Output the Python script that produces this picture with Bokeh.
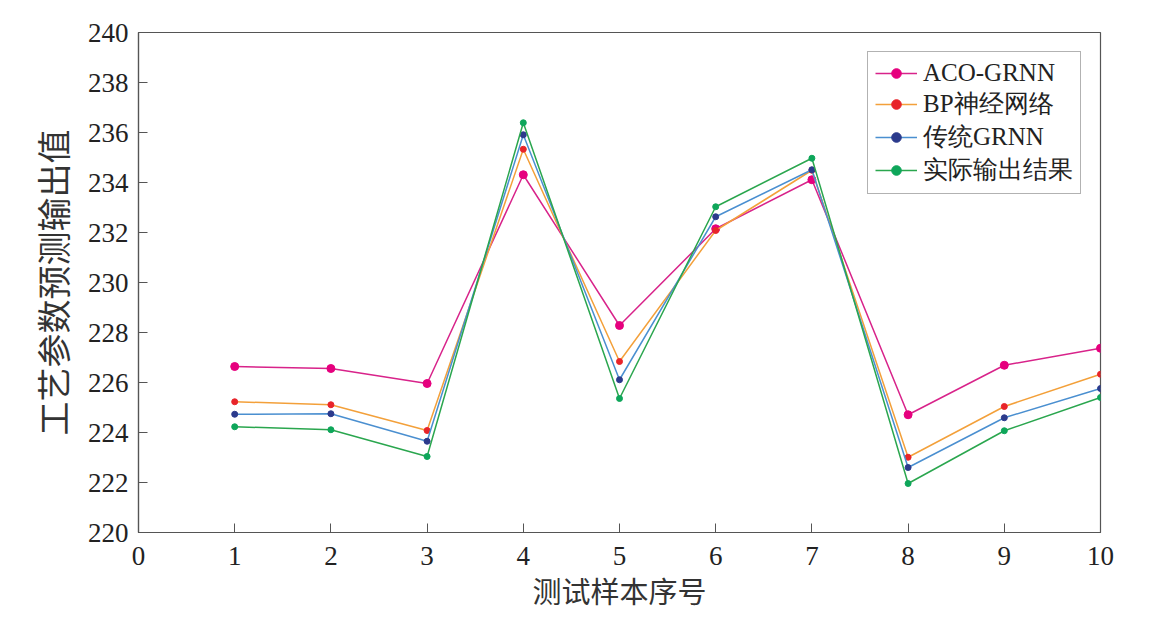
from bokeh.plotting import figure
from bokeh.models import FixedTicker, Range1d, Legend
from bokeh.embed import file_html
from bokeh.resources import INLINE

samples = [1, 2, 3, 4, 5, 6, 7, 8, 9, 10]
aco_grnn = [226.64, 226.56, 225.96, 234.31, 228.28, 232.15, 234.11, 224.71, 226.69, 227.37]
bp_nn = [225.23, 225.11, 224.08, 235.33, 226.84, 232.08, 234.49, 223.01, 225.04, 226.33]
grnn = [224.73, 224.75, 223.65, 235.91, 226.11, 232.63, 234.51, 222.60, 224.59, 225.76]
actual = [224.23, 224.11, 223.04, 236.39, 225.36, 233.03, 234.97, 221.96, 224.07, 225.40]
names = ["ACO-GRNN", "BP神经网络", "传统GRNN", "实际输出结果"]
x_ticks = [0, 1, 2, 3, 4, 5, 6, 7, 8, 9, 10]
y_ticks = [220, 222, 224, 226, 228, 230, 232, 234, 236, 238, 240]

FONT = "Liberation Serif"
CJK = "Noto Sans CJK SC"
AX = "#555555"

p = figure(frame_width=962, frame_height=500, output_backend="svg", toolbar_location=None,
           x_range=Range1d(0, 10), y_range=Range1d(220, 240),
           min_border_left=138, min_border_top=32, min_border_right=20, min_border_bottom=75)
p.background_fill_color = "white"
p.border_fill_color = "white"
p.outline_line_color = AX
p.outline_line_width = 1.2
p.grid.visible = False

for ax in (p.xaxis[0], p.yaxis[0]):
    ax.axis_line_color = AX
    ax.axis_line_width = 1.2
    ax.major_tick_line_color = AX
    ax.major_tick_in = 9
    ax.major_tick_out = 0
    ax.minor_tick_line_color = None
    ax.major_label_text_font = FONT
    ax.major_label_text_font_size = "27px"
    ax.major_label_text_color = "#222222"
    ax.axis_label_text_font = CJK
    ax.axis_label_text_font_style = "normal"
    ax.axis_label_text_color = "#333333"

p.xaxis.ticker = FixedTicker(ticks=x_ticks)
p.yaxis.ticker = FixedTicker(ticks=y_ticks)
p.xaxis.major_label_standoff = 14
p.yaxis.major_label_standoff = 10
p.xaxis.axis_label = "测试样本序号"
p.yaxis.axis_label = "工艺参数预测输出值"
p.xaxis.axis_label_text_font_size = "29px"
p.yaxis.axis_label_text_font_size = "34px"
p.xaxis.axis_label_standoff = 1
p.yaxis.axis_label_standoff = 8

series = [
    (aco_grnn, "#d8238a", "#e6007e", 8),
    (bp_nn, "#f3a03a", "#e8242a", 6),
    (grnn, "#4a8fd0", "#2b3a8c", 6),
    (actual, "#2aa64e", "#0ea65a", 6),
]
items = []
for (vals, lc, mc, sz), name in zip(series, names):
    r1 = p.line(samples, vals, line_color=lc, line_width=1.5)
    r2 = p.scatter(samples, vals, marker="circle", size=sz, fill_color=mc, line_color=mc)
    items.append((name, [r1, r2]))

legend = Legend(items=items, location=(729, 338))
legend.label_text_font = FONT
legend.label_text_font_size = "25px"
legend.label_text_color = "#222222"
legend.label_height = 24
legend.glyph_height = 24
legend.glyph_width = 42
legend.spacing = 0
legend.padding = 7
legend.margin = 0
legend.label_standoff = 6
legend.border_line_color = "#666666"
legend.border_line_width = 1
legend.background_fill_alpha = 1
p.add_layout(legend)

open("out.html", "w").write(file_html(p, INLINE))
